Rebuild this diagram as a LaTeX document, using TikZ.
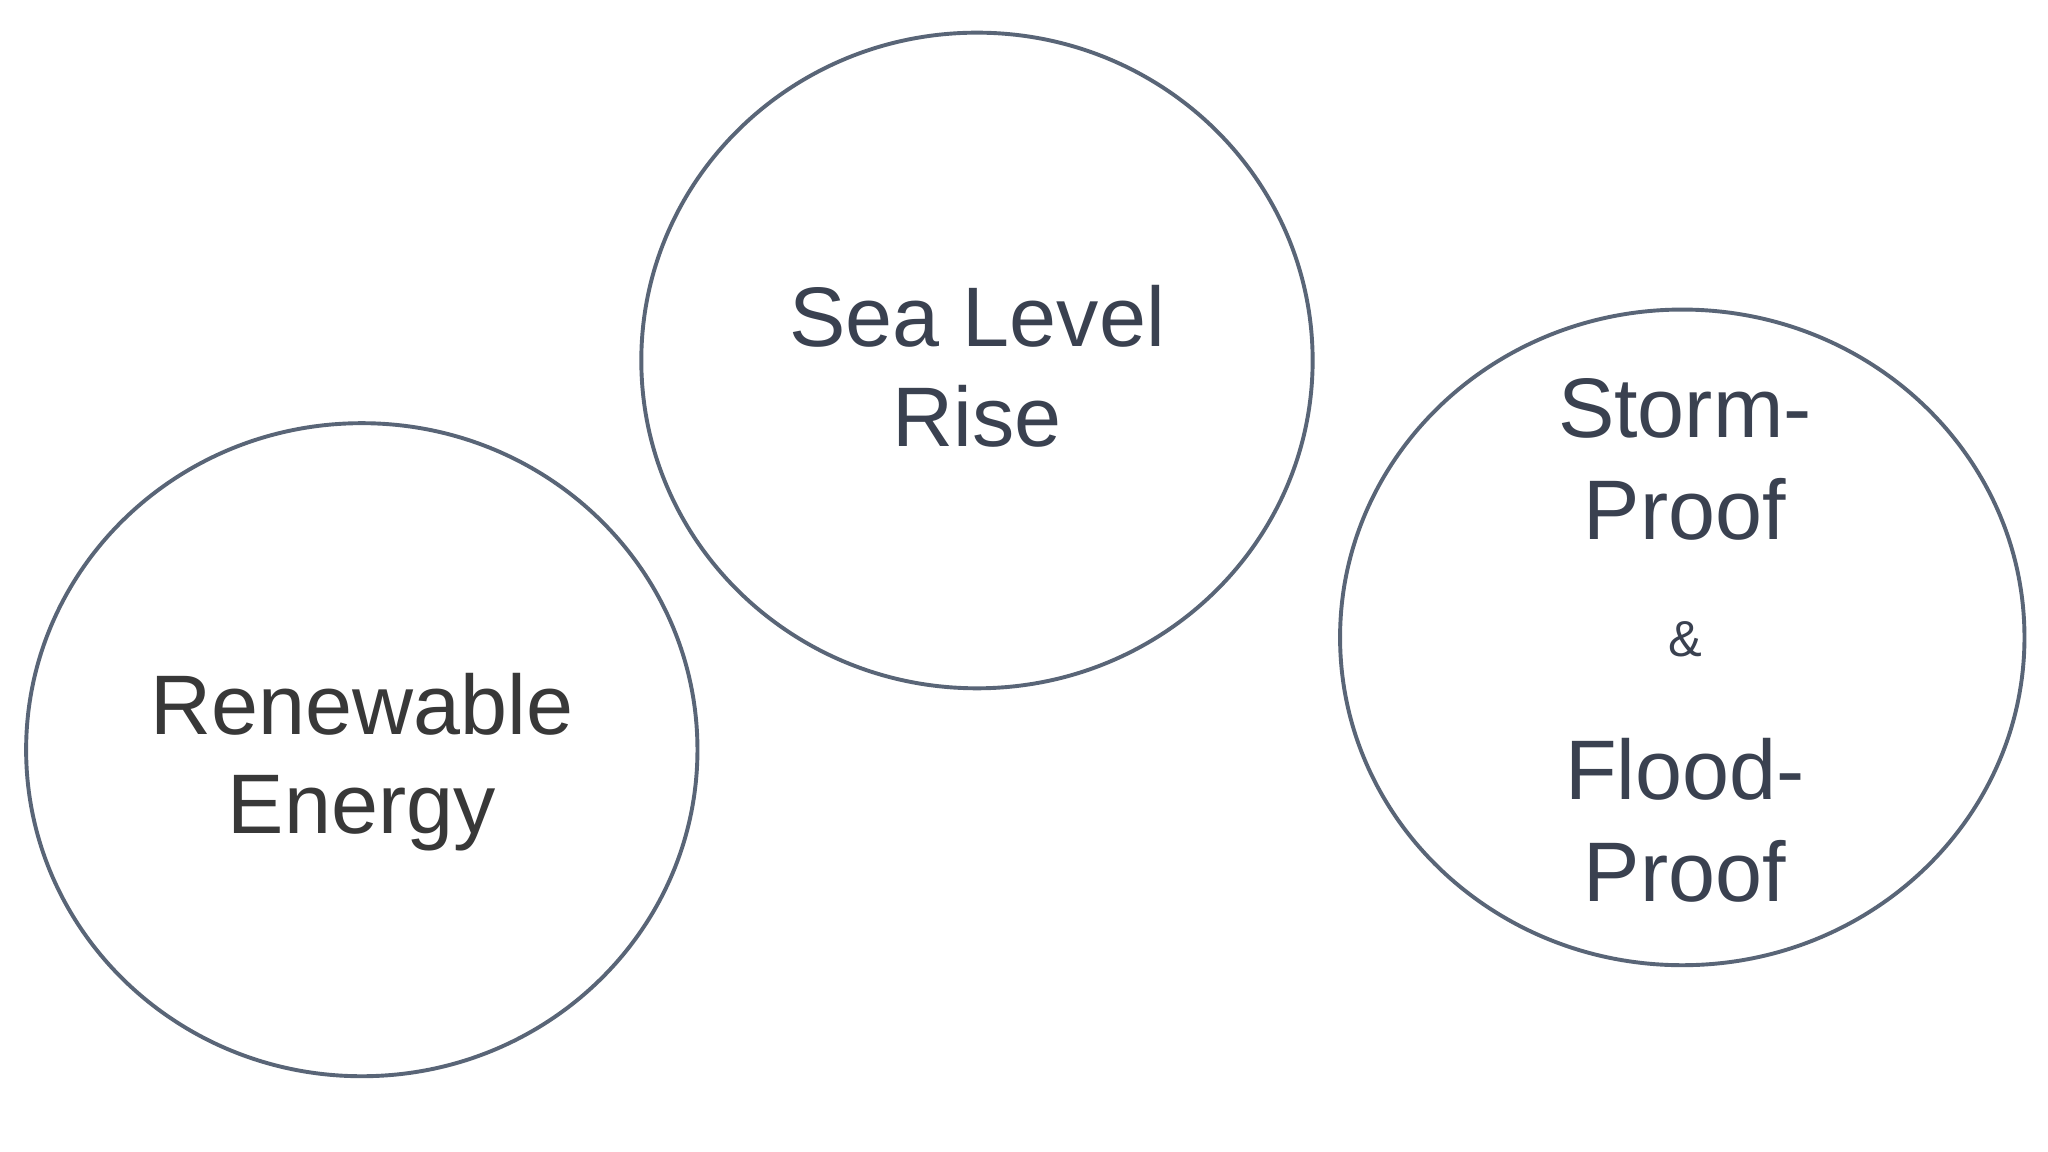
\documentclass[tikz,border=0pt]{standalone}
\usepackage{fontspec}
\setmainfont{Liberation Sans}
\definecolor{ring}{HTML}{596577}
\definecolor{txt}{HTML}{3A4150}
\definecolor{txtdark}{HTML}{383838}
\begin{document}
\begin{tikzpicture}[x=0.01cm,y=-0.01cm]
\tikzset{ringe/.style={draw=ring,line width=0.85pt},
 lbl/.style={anchor=base,text=txt,font=\fontsize{18.4}{22}\selectfont,inner sep=0},
 amp/.style={anchor=base,text=txt,font=\fontsize{11}{12}\selectfont,inner sep=0}}
\useasboundingbox (0,0) rectangle (1568,882);
\fill[white] (0,0) rectangle (1568,882);
\draw[ringe] (748,276) ellipse [x radius=257,y radius=251];
\draw[ringe] (277,574) ellipse [x radius=257,y radius=250];
\draw[ringe] (1288,488) ellipse [x radius=262,y radius=251];
\node[lbl] (s1) at (748,265) {Sea Level};
\node[lbl] (s2) at (748,342) {Rise};
\node[lbl,text=txtdark] (r1) at (277,562) {Renewable};
\node[lbl,text=txtdark] (r2) at (277,638) {Energy};
\node[lbl] (t1) at (1290,335) {Storm-};
\node[lbl] (t2) at (1290,413) {Proof};
\node[amp] (t3) at (1290,503) {\&};
\node[lbl] (t4) at (1290,612) {Flood-};
\node[lbl] (t5) at (1290,690) {Proof};
\end{tikzpicture}
\end{document}
